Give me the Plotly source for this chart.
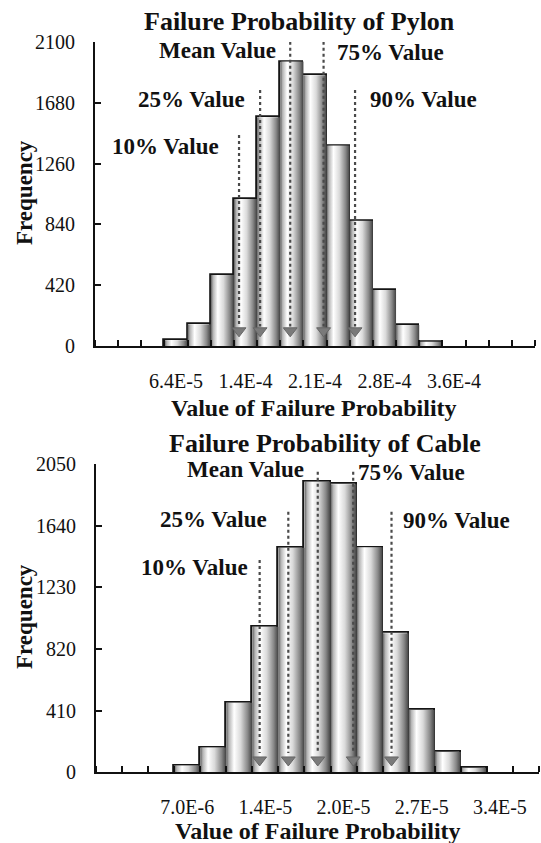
import plotly.graph_objects as go

# ---------------- data ----------------
pylon_categories = list(range(3, 15))
pylon_counts = [40, 150, 490, 1015, 1580, 1965, 1870, 1385, 865, 387, 145, 30]
pylon_tick_cats = [3, 6, 9, 12, 15]
pylon_tick_labels = ["6.4E-5", "1.4E-4", "2.1E-4", "2.8E-4", "3.6E-4"]
pylon_yticks = [0, 420, 840, 1260, 1680, 2100]
pylon_pct_names = ["10% Value", "25% Value", "Mean Value", "75% Value", "90% Value"]
pylon_pct_pos = [5.72, 6.63, 7.93, 9.37, 10.73]   # in category units
pylon_ncat = 19

cable_categories = list(range(3, 15))
cable_counts = [45, 165, 462, 967, 1492, 1930, 1914, 1495, 924, 414, 135, 28]
cable_tick_cats = [3, 6, 9, 12, 15]
cable_tick_labels = ["7.0E-6", "1.4E-5", "2.0E-5", "2.7E-5", "3.4E-5"]
cable_yticks = [0, 410, 820, 1230, 1640, 2050]
cable_pct_names = ["10% Value", "25% Value", "Mean Value", "75% Value", "90% Value"]
cable_pct_pos = [5.78, 6.88, 8.01, 9.37, 10.84]
cable_ncat = 17

# ---------------- styling / layout constants ----------------
W, H = 541, 843
SERIF = "Liberation Serif"
INK = "#111111"
GRAD = [[0.0, "#5a5a5a"], [0.10, "#b4b4b4"], [0.30, "#ffffff"], [0.55, "#dadada"],
        [0.82, "#888888"], [1.0, "#404040"]]


def px_x(p):
    return p / W


def px_y(p):
    return (H - p) / H


panels = [
    dict(name="Pylon", cats=pylon_categories, counts=pylon_counts, tcats=pylon_tick_cats,
         tlabels=pylon_tick_labels, yticks=pylon_yticks, pnames=pylon_pct_names,
         ppos=pylon_pct_pos, ncat=pylon_ncat,
         xdom=[px_x(95), px_x(535)], ydom=[px_y(346), px_y(42)],
         line_tops=[1457, 1768, 2101, 2101, 1768], label_y=[1381, 1706, 2044, 2030, 1706],
         label_x=[4.95, 6.07, 7.41, 9.86, 11.29],
         head_base=135, head_mid=105,
         title_x=8.35, title_py=21, xtitle_x=8.97, xtitle_py=408, ytitle_py=193),
    dict(name="Cable", cats=cable_categories, counts=cable_counts, tcats=cable_tick_cats,
         tlabels=cable_tick_labels, yticks=cable_yticks, pnames=cable_pct_names,
         ppos=cable_pct_pos, ncat=cable_ncat,
         xdom=[px_x(96), px_x(539)], ydom=[px_y(772.3), px_y(463.8)],
         line_tops=[1411, 1732, 1997, 1997, 1732], label_y=[1359, 1683, 2009, 1989, 1676],
         label_x=[5.40, 6.15, 7.55, 9.46, 11.21],
         head_base=128, head_mid=82,
         title_x=8.3, title_py=443, xtitle_x=8.01, xtitle_py=831, ytitle_py=617),
]

fig = go.Figure()
annotations = []

for k, p in enumerate(panels):
    sfx = "" if k == 0 else str(k + 1)
    xa, ya = "x" + sfx, "y" + sfx

    # gradient fill of each bar (cylinder look)
    for c, v in zip(p["cats"], p["counts"]):
        fig.add_trace(go.Scatter(
            x=[c - 0.5, c - 0.5, c + 0.5, c + 0.5, c - 0.5], y=[0, v, v, 0, 0],
            mode="lines", line=dict(width=0), fill="toself",
            fillgradient=dict(type="horizontal", colorscale=GRAD),
            hoverinfo="skip", showlegend=False, xaxis=xa, yaxis=ya))
    # bar outlines
    fig.add_trace(go.Bar(
        x=p["cats"], y=p["counts"], width=1.0,
        marker=dict(color="rgba(0,0,0,0)", line=dict(color="#151515", width=1.8)),
        showlegend=False, xaxis=xa, yaxis=ya))

    # dotted percentile lines with arrow heads
    for i, (xp, top) in enumerate(zip(p["ppos"], p["line_tops"])):
        fig.add_trace(go.Scatter(
            x=[xp, xp], y=[top, p["head_base"]], mode="lines",
            line=dict(color="#4a4a4a", width=2.2, dash="dot"),
            cliponaxis=False, showlegend=False, hoverinfo="skip", xaxis=xa, yaxis=ya))
        fig.add_trace(go.Scatter(
            x=[xp], y=[p["head_mid"]], mode="markers",
            marker=dict(symbol="triangle-down", size=12, color="#7a7a7a",
                        line=dict(color="#666666", width=1)),
            cliponaxis=False, showlegend=False, hoverinfo="skip", xaxis=xa, yaxis=ya))
        anchor = "right" if i in (0, 1, 2) else "left"
        annotations.append(dict(
            x=p["label_x"][i], y=p["label_y"][i], xref=xa, yref=ya,
            text="<b>" + p["pnames"][i] + "</b>", showarrow=False,
            xanchor=anchor, yanchor="middle",
            font=dict(family=SERIF, size=23, color=INK)))

    # chart title
    annotations.append(dict(
        x=p["title_x"], y=px_y(p["title_py"]), xref=xa, yref="paper",
        text="<b>Failure Probability of " + p["name"] + "</b>", showarrow=False,
        xanchor="center", yanchor="middle", font=dict(family=SERIF, size=26, color=INK)))
    # x axis title
    annotations.append(dict(
        x=p["xtitle_x"], y=px_y(p["xtitle_py"]), xref=xa, yref="paper",
        text="<b>Value of Failure Probability</b>", showarrow=False,
        xanchor="center", yanchor="middle", font=dict(family=SERIF, size=24, color=INK)))
    # y axis title
    annotations.append(dict(
        x=px_x(24), y=px_y(p["ytitle_py"]), xref="paper", yref="paper",
        text="<b>Frequency</b>", textangle=-90, showarrow=False,
        xanchor="center", yanchor="middle", font=dict(family=SERIF, size=23, color=INK)))

    xkey = "xaxis" + sfx
    ykey = "yaxis" + sfx
    fig.update_layout({
        xkey: dict(domain=p["xdom"], anchor=ya, range=[-0.5, p["ncat"] - 0.5],
                   tickmode="array", tickvals=p["tcats"], ticktext=p["tlabels"],
                   ticks="", showgrid=False, zeroline=False, automargin=False,
                   showline=True, linecolor="#111111", linewidth=2,
                   tickfont=dict(family=SERIF, size=20, color=INK),
                   ticklabelstandoff=16,
                   minor=dict(tick0=-0.5, dtick=1, ticks="inside", ticklen=6,
                              tickwidth=2, tickcolor="#111111", showgrid=False)),
        ykey: dict(domain=p["ydom"], anchor=xa, range=[0, p["yticks"][-1]],
                   tickmode="array", tickvals=p["yticks"], automargin=False,
                   ticks="inside", ticklen=6, tickwidth=2, tickcolor="#111111",
                   showgrid=False, zeroline=False,
                   showline=True, linecolor="#111111", linewidth=2,
                   tickfont=dict(family=SERIF, size=20, color=INK),
                   ticklabelstandoff=14),
    })

fig.update_layout(
    width=W, height=H, margin=dict(l=0, r=0, t=0, b=0, pad=0, autoexpand=False),
    paper_bgcolor="white", plot_bgcolor="white",
    barmode="overlay", bargap=0, showlegend=False,
    annotations=annotations,
)

fig.write_html(
    "out.html",
    config={"displayModeBar": False},
    post_script="document.body.style.margin='0';document.body.style.overflow='hidden';",
)
